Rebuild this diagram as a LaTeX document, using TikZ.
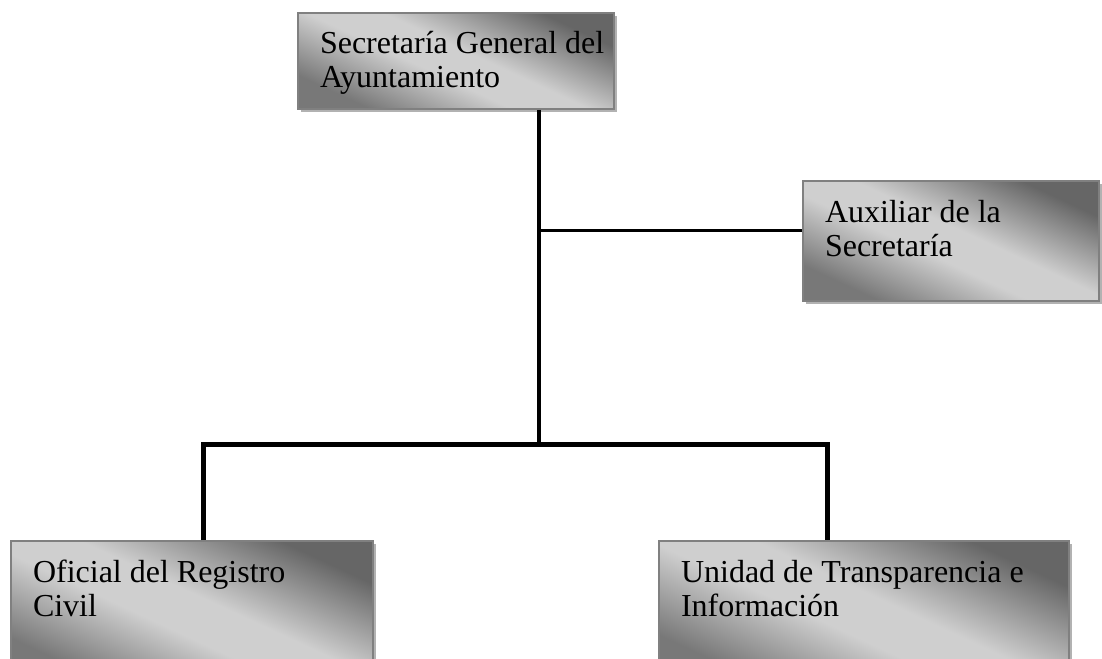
\documentclass[tikz,border=0pt]{standalone}
\usepackage{fontspec}
\setmainfont{Liberation Serif}
\usetikzlibrary{shadows,positioning}
\pgfdeclareverticalshading{sheen}{100bp}{color(0bp)=(black!53); color(26bp)=(black!53); color(44bp)=(black!19); color(54bp)=(black!19); color(74bp)=(black!60); color(100bp)=(black!60)}

\begin{document}
\begin{tikzpicture}[x=1pt,y=-1pt]
        \tikzstyle{unit}=[rectangle, anchor=north west, draw=black!50, line width=2pt, inner xsep=0pt, inner ysep=19pt, text height=22pt, align=flush left, font=\fontsize{32}{34}\selectfont, shade, shading=sheen, shading angle=-25, drop shadow={shadow xshift=3pt, shadow yshift=-3pt, fill=black!30, opacity=1}, execute at begin node={\leftskip=22pt}]
        \tikzstyle{trunk}=[line width=4pt]
        \tikzstyle{branch}=[line width=3pt]
        \tikzstyle{bus}=[line width=5pt, line join=miter]
        \fill[white] (0,0) rectangle (1102,658);
        \useasboundingbox (0,0) rectangle (1102,658);
        \node[unit, text width=316pt, text depth=36pt] (secretaria) at (297,12) {Secretaría General del\\Ayuntamiento};
        \node[unit, text width=296pt, text depth=60pt] (auxiliar) at (802,180) {Auxiliar de la\\Secretaría};
        \node[unit, text width=362pt, text depth=80pt] (registro) at (10,540) {Oficial del Registro\\Civil};
        \node[unit, text width=410pt, text depth=80pt] (transparencia) at (658,540) {Unidad de Transparencia e\\Información};
        \coordinate (fork) at (539,446);
        \coordinate (branch) at (539,230);
        \coordinate (busL) at (203,444);
        \coordinate (busR) at (827,444);
        \draw[trunk] (secretaria.south -| fork) -- (fork);
        \draw[branch] (branch) -- (branch -| auxiliar.west);
        \draw[bus] (registro.north -| busL) -- (busL) -- (busR) -- (busR |- transparencia.north);
\end{tikzpicture}
\end{document}
